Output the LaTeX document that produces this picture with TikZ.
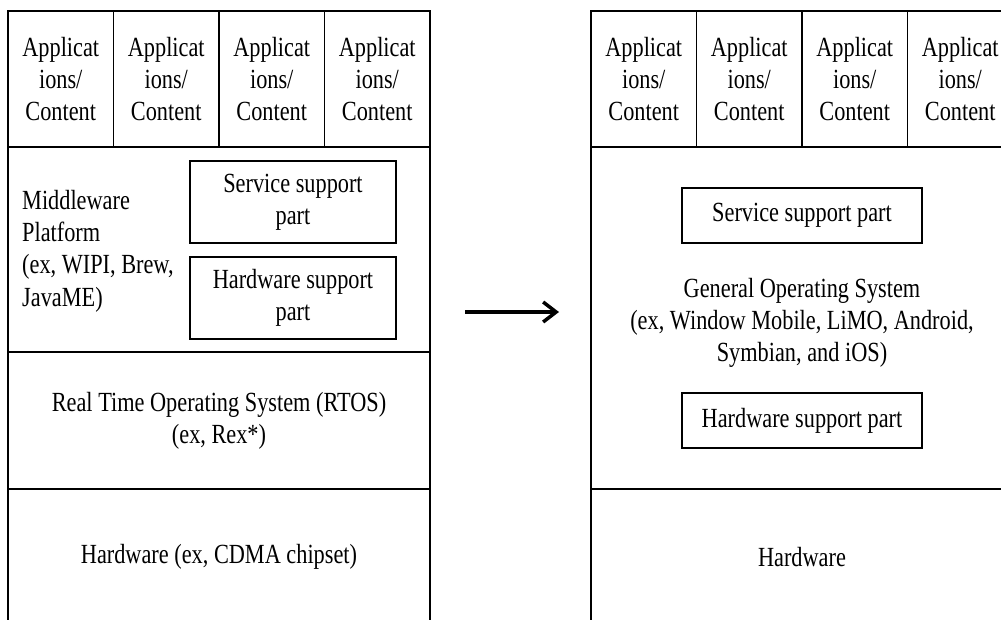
\documentclass[tikz,border=0pt]{standalone}
\usepackage{fontspec}
\setmainfont[FakeStretch=0.805]{Liberation Serif}
\usetikzlibrary{arrows.meta}
\begin{document}
\begin{tikzpicture}[x=1pt,y=-1pt,
  every node/.style={font=\fontsize{27.7}{32.3}\selectfont, inner sep=0pt, align=center},
  layer/.style={draw, line width=1.5pt, minimum width=422pt},
  appcell/.style={draw, line width=1.5pt, minimum width=105.5pt, minimum height=136pt},
  partbox/.style={draw, line width=1.4pt},
  bigarrow/.style={line width=3.5pt, -{Straight Barb[length=13pt,width=20pt]}}
]
\clip (0,0) rectangle (1001,619);
\fill[white] (0,0) rectangle (1001,619);

% ---------- left stack ----------
\node[appcell] (la1) at (60.75,79) {Applicat\\ions/\\Content};
\node[appcell] (la2) at (166.25,79) {Applicat\\ions/\\Content};
\node[appcell] (la3) at (271.75,79) {Applicat\\ions/\\Content};
\node[appcell] (la4) at (377.25,79) {Applicat\\ions/\\Content};
\node[layer, minimum height=205pt] (lmid) at (219,249.5) {};
\node[align=left, anchor=west] (lmidtext) at (22,251) {Middleware\\Platform\\(ex, WIPI, Brew,\\JavaME)};
\node[partbox, minimum width=206pt, minimum height=82pt] (lsvc) at (293,202) {Service support\\part};
\node[partbox, minimum width=206pt, minimum height=82pt] (lhws) at (293,298) {Hardware support\\part};
\node[layer, minimum height=137pt] (lrtos) at (219,420.5) {Real Time Operating System (RTOS)\\(ex, Rex*)};
\node[layer, minimum height=136pt] (lhw) at (219,557) {Hardware (ex, CDMA chipset)};

% ---------- arrow ----------
\coordinate (as) at (465,312);
\coordinate (ae) at (559,312);
\draw[bigarrow] (as) -- (ae);

% ---------- right stack ----------
\node[appcell] (ra1) at (643.75,79) {Applicat\\ions/\\Content};
\node[appcell] (ra2) at (749.25,79) {Applicat\\ions/\\Content};
\node[appcell] (ra3) at (854.75,79) {Applicat\\ions/\\Content};
\node[appcell] (ra4) at (960.25,79) {Applicat\\ions/\\Content};
\node[layer, minimum height=342pt] (ros) at (802,318) {};
\node[partbox, minimum width=240pt, minimum height=55pt] (rsvc) at (802,215.5) {Service support part};
\node (rostext) at (802,323) {General Operating System\\(ex, Window Mobile, LiMO, Android,\\Symbian, and iOS)};
\node[partbox, minimum width=240pt, minimum height=55pt] (rhws) at (802,420.5) {Hardware support part};
\node[layer, minimum height=136pt] (rhw) at (802,557) {Hardware};
\end{tikzpicture}
\end{document}
